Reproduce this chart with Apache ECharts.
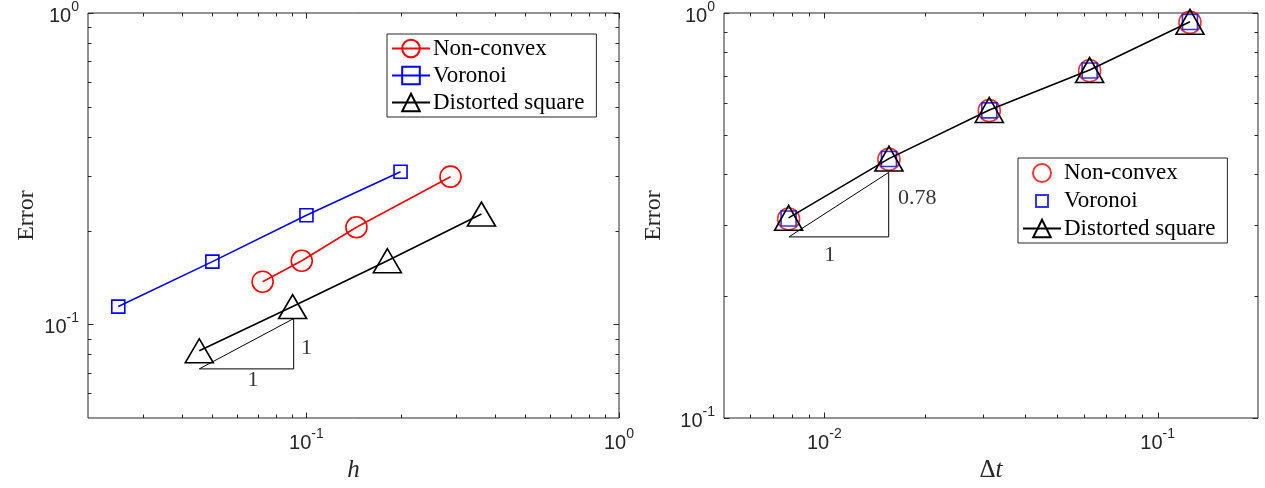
<!DOCTYPE html>
<html><head><meta charset="utf-8">
<script src="https://cdn.jsdelivr.net/npm/echarts@6/dist/echarts.min.js"></script>
<style>html,body{margin:0;padding:0;background:#fff}#c{width:1265px;height:488px}</style>
</head><body><div id="c"></div>
<script>
// ---------- Left panel: Error vs h ----------
const nonconvexH   = [0.0724, 0.0966, 0.1445, 0.289];
const nonconvexErr = [0.137, 0.160, 0.205, 0.298];
const voronoiH     = [0.025, 0.05, 0.1, 0.2];
const voronoiErr   = [0.114, 0.159, 0.224, 0.309];
const distortedH   = [0.0454, 0.0903, 0.1815, 0.363];
const distortedErr = [0.0822, 0.114, 0.160, 0.226];
// slope triangle (left): x corners, y corners
const slopeLeftX = [0.0454, 0.091];
const slopeLeftY = [0.0719, 0.1043];
const slopeLeftLabels = [ {x: 0.1, y: 0.0837, t: '1'}, {x: 0.0675, y: 0.066, t: '1'} ];

// ---------- Right panel: Error vs Δt ----------
const dt              = [1/128, 1/64, 1/32, 1/16, 1/8];
const nonconvexErrDt  = [0.310, 0.435, 0.574, 0.720, 0.948];
const voronoiErrDt    = [0.311, 0.436, 0.575, 0.721, 0.950];
const distortedErrDt  = [0.312, 0.437, 0.576, 0.723, 0.951];
const slopeRightX = [0.00783, 0.0156];
const slopeRightY = [0.280, 0.404];
const slopeRightLabels = [ {x: 0.0190, y: 0.349, t: '0.78'}, {x: 0.01038, y: 0.253, t: '1'} ];

// ---------- Axes ----------
const leftXRange  = [0.02, 1];
const leftYRange  = [0.05, 1];
const rightXRange = [0.005, 0.2];
const rightYRange = [0.1, 1];
const leftXMajor  = [0.1, 1];
const leftXMinor  = [0.03,0.04,0.05,0.06,0.07,0.08,0.09,0.2,0.3,0.4,0.5,0.6,0.7,0.8,0.9];
const leftYMajor  = [0.1, 1];
const leftYMinor  = [0.06,0.07,0.08,0.09,0.2,0.3,0.4,0.5,0.6,0.7,0.8,0.9];
const rightXMajor = [0.01, 0.1];
const rightXMinor = [0.006,0.007,0.008,0.009,0.02,0.03,0.04,0.05,0.06,0.07,0.08,0.09];
const rightYMajor = [0.1, 1];
const rightYMinor = [0.2,0.3,0.4,0.5,0.6,0.7,0.8,0.9];

const legendNames = {
  'Non-convex': 'Non-convex', 'Voronoi': 'Voronoi', 'Distorted square': 'Distorted square',
  'Non-convex ': 'Non-convex', 'Voronoi ': 'Voronoi', 'Distorted square ': 'Distorted square'
};

const AX = '#262626';
const SERIF = 'Liberation Serif';
const SANS = 'Liberation Sans';

function zip(a, b) { return a.map((v, i) => [v, b[i]]); }
function decadeLabel(v) {
  const e = Math.log10(v);
  const r = Math.round(e);
  if (Math.abs(e - r) > 1e-6) return '';
  return '{b|10}{s|' + r + '}';
}
const labelRich = {
  b: {fontSize: 20, fontFamily: SANS, color: AX, verticalAlign: 'bottom', lineHeight: 26},
  s: {fontSize: 14, fontFamily: SANS, color: AX, verticalAlign: 'top', lineHeight: 15}
};
function tickData(xMaj, xMin, yMaj, yMin, xr, yr) {
  const d = [];
  xMin.forEach(v => d.push([v, yr[0], 0]));
  yMin.forEach(v => d.push([xr[0], v, 1]));
  xMaj.forEach(v => d.push([v, yr[0], 2]));
  yMaj.forEach(v => d.push([xr[0], v, 3]));
  return d;
}
function tickRender(params, api) {
  const cs = params.coordSys;
  const kind = api.value(2);
  const len = kind >= 2 ? 5.5 : 3.5;
  const st = {stroke: AX, lineWidth: 1};
  const p = api.coord([api.value(0), api.value(1)]);
  if (kind % 2 === 0) {
    const x = Math.round(p[0]) + 0.5;
    const yb = cs.y + cs.height;
    return {type: 'group', children: [
      {type: 'line', shape: {x1: x, y1: yb, x2: x, y2: yb - len}, style: st},
      {type: 'line', shape: {x1: x, y1: cs.y, x2: x, y2: cs.y + len}, style: st}
    ]};
  } else {
    const y = Math.round(p[1]) + 0.5;
    const xr = cs.x + cs.width;
    return {type: 'group', children: [
      {type: 'line', shape: {x1: cs.x, y1: y, x2: cs.x + len, y2: y}, style: st},
      {type: 'line', shape: {x1: xr, y1: y, x2: xr - len, y2: y}, style: st}
    ]};
  }
}
function axisCommon(range) {
  return {
    type: 'log', logBase: 10, min: range[0], max: range[1],
    axisLine: {show: false}, axisTick: {show: false}, splitLine: {show: false}, minorTick: {show: false},
    axisLabel: {formatter: decadeLabel, rich: labelRich, margin: 9, showMinLabel: true, showMaxLabel: true}
  };
}
const hollow = c => ({color: 'rgba(0,0,0,0)', borderColor: c, borderWidth: 1.6});
const legendCommon = {
  orient: 'vertical', align: 'left', itemGap: 4, itemWidth: 38, itemHeight: 22,
  padding: [3, 12, 3, 4], borderColor: AX, borderWidth: 1, backgroundColor: '#fff',
  textStyle: {fontFamily: SERIF, fontSize: 23, color: '#000', padding: [0, 0, 0, -2]},
  formatter: n => legendNames[n], selectedMode: false
};

const option = {
  animation: false,
  backgroundColor: '#fff',
  grid: [
    {left: 88, top: 11, width: 531, height: 407, show: true, borderColor: AX, borderWidth: 1, backgroundColor: '#fff'},
    {left: 724, top: 11, width: 534, height: 407, show: true, borderColor: AX, borderWidth: 1, backgroundColor: '#fff'}
  ],
  xAxis: [
    Object.assign(axisCommon(leftXRange), {gridIndex: 0, name: 'h', nameLocation: 'middle', nameGap: 40,
      nameTextStyle: {fontFamily: SERIF, fontStyle: 'italic', fontSize: 25, color: AX}}),
    Object.assign(axisCommon(rightXRange), {gridIndex: 1, name: '{n|Δ}{i|t}', nameLocation: 'middle', nameGap: 40,
      nameTextStyle: {fontFamily: SERIF, fontSize: 25, color: AX,
        rich: {n: {fontFamily: SERIF, fontSize: 25, color: AX}, i: {fontFamily: SERIF, fontStyle: 'italic', fontSize: 25, color: AX}}}})
  ],
  yAxis: [
    Object.assign(axisCommon(leftYRange), {gridIndex: 0, name: 'Error', nameLocation: 'middle', nameGap: 49,
      nameTextStyle: {fontFamily: SERIF, fontSize: 24, color: AX}}),
    Object.assign(axisCommon(rightYRange), {gridIndex: 1, name: 'Error', nameLocation: 'middle', nameGap: 58,
      nameTextStyle: {fontFamily: SERIF, fontSize: 24, color: AX}})
  ],
  legend: [
    Object.assign({}, legendCommon, {left: 387, top: 34, data: ['Non-convex', 'Voronoi', 'Distorted square']}),
    Object.assign({}, legendCommon, {left: 1018, top: 158, data: [
      {name: 'Non-convex ', icon: 'path://M0,0M22,22M2,11A9,9,0,1,1,20,11A9,9,0,1,1,2,11Z'},
      {name: 'Voronoi ', icon: 'path://M0,0M22,22M5,5H17V17H5Z'},
      'Distorted square ']})
  ],
  series: [
    // ticks
    {type: 'custom', xAxisIndex: 0, yAxisIndex: 0, silent: true, clip: false, z: 10,
     renderItem: tickRender, data: tickData(leftXMajor, leftXMinor, leftYMajor, leftYMinor, leftXRange, leftYRange)},
    {type: 'custom', xAxisIndex: 1, yAxisIndex: 1, silent: true, clip: false, z: 10,
     renderItem: tickRender, data: tickData(rightXMajor, rightXMinor, rightYMajor, rightYMinor, rightXRange, rightYRange)},
    // slope triangles
    {type: 'line', name: 'slopeL', xAxisIndex: 0, yAxisIndex: 0, silent: true, symbol: 'none',
     lineStyle: {color: '#000', width: 1},
     data: [[slopeLeftX[0], slopeLeftY[0]], [slopeLeftX[1], slopeLeftY[0]], [slopeLeftX[1], slopeLeftY[1]], [slopeLeftX[0], slopeLeftY[0]]]},
    {type: 'line', name: 'slopeR', xAxisIndex: 1, yAxisIndex: 1, silent: true, symbol: 'none',
     lineStyle: {color: '#000', width: 1},
     data: [[slopeRightX[0], slopeRightY[0]], [slopeRightX[1], slopeRightY[0]], [slopeRightX[1], slopeRightY[1]], [slopeRightX[0], slopeRightY[0]]]},
    {type: 'scatter', name: 'lblL', xAxisIndex: 0, yAxisIndex: 0, silent: true, symbolSize: 0,
     label: {show: true, position: 'inside', formatter: p => p.data.t, fontFamily: SERIF, fontSize: 22, color: '#000'},
     data: slopeLeftLabels.map(o => ({value: [o.x, o.y], t: o.t}))},
    {type: 'scatter', name: 'lblR', xAxisIndex: 1, yAxisIndex: 1, silent: true, symbolSize: 0,
     label: {show: true, position: 'inside', formatter: p => p.data.t, fontFamily: SERIF, fontSize: 22, color: '#000'},
     data: slopeRightLabels.map(o => ({value: [o.x, o.y], t: o.t}))},
    // left data
    {type: 'line', name: 'Non-convex', xAxisIndex: 0, yAxisIndex: 0, symbol: 'circle', symbolSize: 21,
     lineStyle: {color: '#ff0000', width: 1.6}, itemStyle: hollow('#ff0000'), data: zip(nonconvexH, nonconvexErr)},
    {type: 'line', name: 'Voronoi', xAxisIndex: 0, yAxisIndex: 0, symbol: 'rect', symbolSize: 13,
     lineStyle: {color: '#0000ff', width: 1.6}, itemStyle: hollow('#0000ff'), data: zip(voronoiH, voronoiErr)},
    {type: 'line', name: 'Distorted square', xAxisIndex: 0, yAxisIndex: 0, symbol: 'triangle', symbolSize: [28, 24],
     lineStyle: {color: '#000000', width: 1.6}, itemStyle: hollow('#000000'), data: zip(distortedH, distortedErr)},
    // right data
    {type: 'scatter', name: 'Non-convex ', xAxisIndex: 1, yAxisIndex: 1, symbol: 'circle', symbolSize: 22,
     itemStyle: hollow('#ff0000'), data: zip(dt, nonconvexErrDt)},
    {type: 'scatter', name: 'Voronoi ', xAxisIndex: 1, yAxisIndex: 1, symbol: 'rect', symbolSize: 15,
     itemStyle: hollow('#0000ff'), data: zip(dt, voronoiErrDt)},
    {type: 'line', name: 'Distorted square ', xAxisIndex: 1, yAxisIndex: 1, symbol: 'triangle', symbolSize: [28, 25],
     lineStyle: {color: '#000000', width: 1.6}, itemStyle: hollow('#000000'), data: zip(dt, distortedErrDt)}
  ]
};
const chart = echarts.init(document.getElementById('c'), null, {renderer: 'canvas'});
chart.setOption(option);
</script>
</body></html>
